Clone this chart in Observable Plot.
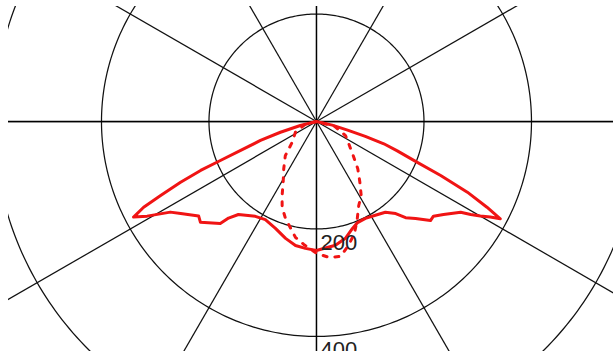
<!DOCTYPE html>
<html>
<head>
<meta charset="utf-8">
<script src="https://cdn.jsdelivr.net/npm/d3@7"></script>
<script src="https://cdn.jsdelivr.net/npm/@observablehq/plot@0.6"></script>
<style>
  body { margin: 0; background: #fff; }
  #chart svg { display: block; }
</style>
</head>
<body>
<div id="chart"></div>
<script>
// C0–C180 plane (solid): gamma angle from nadir (deg) and luminous intensity (cd/klm)
const planeC0Angle = [-90, -76, -73.4, -71.3, -69.1, -67.9, -67.1, -65.9, -64.6, -63.6, -62.4,
  -60.8, -58.2, -55.9, -51.3, -49, -43.3, -42.3, -40, -32.8, -27.5, -21, -14.8, -9.6, -5, 0,
  8.7, 13.9, 18.6, 22.1, 26.8, 32.1, 37.2, 40.7, 42.8, 45.6, 49, 51, 53.8, 57.8, 58.9, 60, 61.2, 62.1,
  63.3, 64.9, 66.5, 68.2, 70, 71.7, 73, 74.5, 77, 90];
const planeC0Value = [0, 31, 70, 110, 151, 193, 234, 277, 321, 359, 384,
  361, 320, 305, 281, 286, 261, 243, 226, 210, 206, 213, 225, 234, 237, 240,
  233, 224, 210, 203, 202, 206, 212, 226, 244, 258, 281, 280, 293, 317, 335, 352, 369, 387,
  355, 310, 252, 195, 160, 132, 95, 60, 30, 0];

// C90–C270 plane (dotted)
const planeC90Angle = [-90, -75, -63, -49.6, -42.4, -34.7, -28.7, -24.9, -21.8, -17.8, -13.7, -10.3,
  -5.9, 0, 5.2, 10.1, 14.5, 18.7, 22.3, 26.7, 31.1, 35.5, 41.1, 47.2, 55.4, 64.2, 75, 90];
const planeC90Value = [0, 22, 44, 59, 86, 107, 129, 152, 172, 189, 204, 219,
  230, 245, 254, 255, 238, 220, 199, 175, 161, 139, 117, 93, 73, 60, 35, 0];

// Polar grid
const ringValues = [200, 400, 600];
const ringLabels = ["200", "400"];
const spokeAngles = [0, 30, 60, 90, 120, 150, 180, 210, 240, 270, 300, 330];

const rad = (a) => a * Math.PI / 180;
const toXY = (a, v) => ({x: v * Math.sin(rad(a)), y: -v * Math.cos(rad(a))});

const c0 = planeC0Angle.map((a, i) => toXY(a, planeC0Value[i]));
const c90 = planeC90Angle.map((a, i) => toXY(a, planeC90Value[i]));
const rings = ringValues.flatMap((r) =>
  d3.range(0, 361, 1).map((t) => ({ring: r, ...toXY(t, r)})));
const spokes = spokeAngles.map((a) => {
  const p = toXY(a, 1500);
  return {x1: 0, y1: 0, x2: p.x, y2: p.y};
});

const red = "#f01414";
const ink = "#111";

const chart = Plot.plot({
  width: 613,
  height: 351,
  marginLeft: 8,
  marginTop: 6,
  marginRight: 0,
  marginBottom: 0,
  x: {domain: [-573, 552.6], axis: null},
  y: {domain: [-428, 214], axis: null},
  marks: [
    Plot.line(rings, {x: "x", y: "y", z: "ring", stroke: ink, strokeWidth: 1.25, clip: true}),
    Plot.link(spokes, {x1: "x1", y1: "y1", x2: "x2", y2: "y2", stroke: ink, strokeWidth: 1.25, clip: true}),
    Plot.ruleY([0], {stroke: "#000", strokeWidth: 1.3, clip: true}),
    Plot.ruleX([0], {stroke: "#000", strokeWidth: 1.3, clip: true}),
    Plot.line(c90, {x: "x", y: "y", stroke: red, strokeWidth: 3, strokeDasharray: "4,8", clip: true}),
    Plot.line(c0, {x: "x", y: "y", stroke: red, strokeWidth: 3, strokeLinejoin: "round", clip: true}),
    Plot.text(ringLabels, {
      x: 0, y: (d) => -Number(d), text: (d) => d,
      dx: 4, dy: 5, textAnchor: "start", lineAnchor: "top",
      fontSize: 22, fontFamily: "Liberation Sans", fill: "#222"
    })
  ]
});

document.getElementById("chart").appendChild(chart);
</script>
</body>
</html>
